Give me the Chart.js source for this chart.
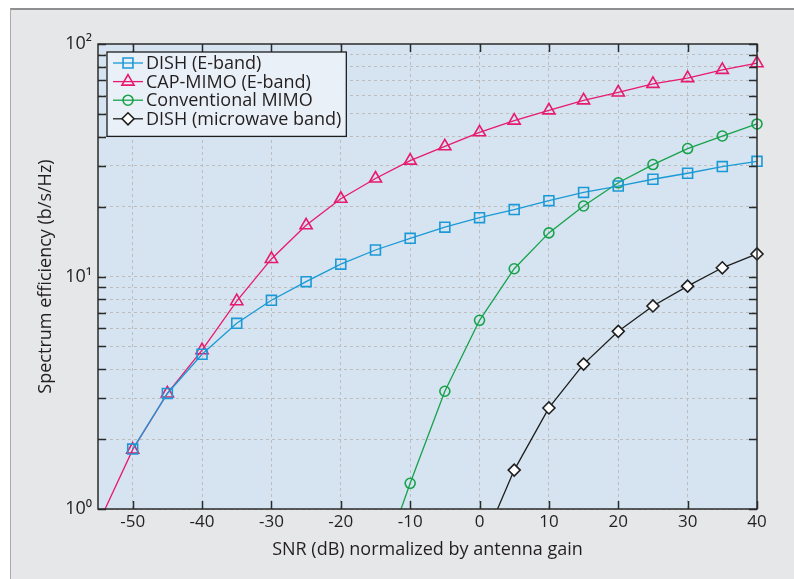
<!DOCTYPE html>
<html>
<head>
<meta charset="utf-8">
<script src="https://cdn.jsdelivr.net/npm/chart.js@4.4.0/dist/chart.umd.min.js"></script>
<style>
  html, body { margin: 0; padding: 0; background: #fff; }
  #wrap { position: relative; width: 794px; height: 579px; overflow: hidden; }
  #panel { position: absolute; left: 10px; top: 8px; width: 800px; height: 600px;
           background: #e6e7e9; border-top: 2px solid #8f8f8f; border-left: 1px solid #aaaaaa; }
  #chart { position: absolute; left: 0; top: 0; }
</style>
</head>
<body>
<div id="wrap">
  <div id="panel"></div>
  <canvas id="chart" width="794" height="579"></canvas>
</div>
<script>
// SNR axis (dB) and the values
const snrDb = [-50, -45, -40, -35, -30, -25, -20, -15, -10, -5, 0, 5, 10, 15, 20, 25, 30, 35, 40];
const dishEband = [1.81, 3.14, 4.63, 6.29, 7.9, 9.5, 11.3, 13.0, 14.6, 16.3, 17.9, 19.4, 21.2, 23.0, 24.5, 26.2, 27.8, 29.7, 31.3];

const capMimoSnr = [-55, -50, -45, -40, -35, -30, -25, -20, -15, -10, -5, 0, 5, 10, 15, 20, 25, 30, 35, 40];
const capMimo = [0.86, 1.80, 3.14, 4.82, 7.83, 11.9, 16.6, 21.6, 26.4, 31.5, 36.3, 41.7, 46.8, 51.8, 57.2, 61.9, 67.4, 71.3, 77.4, 82.7];

const convSnr = [-15, -10, -5, 0, 5, 10, 15, 20, 25, 30, 35, 40];
const convMimo = [0.49, 1.29, 3.21, 6.48, 10.8, 15.4, 20.1, 25.3, 30.3, 35.5, 40.2, 45.3];

const microSnr = [0, 5, 10, 15, 20, 25, 30, 35, 40];
const dishMicro = [0.66, 1.47, 2.72, 4.20, 5.81, 7.47, 9.09, 10.9, 12.5];

const xTicks = [-50, -40, -30, -20, -10, 0, 10, 20, 30, 40];
const yTicks = [1, 2, 3, 4, 5, 6, 7, 8, 9, 10, 20, 30, 40, 50, 60, 70, 80, 90, 100];
const yLabelValues = [1, 10, 100];
const yLabelText = ['10\u2070', '10\u00B9', '10\u00B2'];

const seriesNames = ['DISH (E-band)', 'CAP-MIMO (E-band)', 'Conventional MIMO', 'DISH (microwave band)'];

const FONT = '"Open Sans", sans-serif';
const TEXT = '#231f20';

function pts(xs, ys) {
    return xs.map(function (x, i) { return { x: x, y: ys[i] }; });
}

function radiusFor(r) {
    return function (ctx) {
        return ctx.raw && ctx.raw.y < 1 ? 0 : r;
    };
}

function makeSet(label, data, color, style, r, fill) {
    return {
        label: label,
        data: data,
        borderColor: color,
        backgroundColor: fill,
        borderWidth: 1.3,
        pointStyle: style,
        pointRadius: radiusFor(r),
        pointBorderColor: color,
        pointBackgroundColor: fill,
        pointBorderWidth: 1.6,
        markerRadius: r,
        tension: 0,
        clip: { left: 0, top: 10, right: 10, bottom: 0 },
    };
}

const plotBackground = {
    id: 'plotBackground',
    beforeDraw: function (chart) {
        const a = chart.chartArea;
        const ctx = chart.ctx;
        ctx.save();
        ctx.fillStyle = '#d5e4f0';
        ctx.fillRect(a.left, a.top, a.right - a.left, a.bottom - a.top);
        ctx.restore();
    },
};

function drawMarker(ctx, ds, x, y) {
    const opts = { pointStyle: ds.pointStyle, radius: ds.markerRadius, rotation: 0, borderWidth: 1.6 };
    ctx.fillStyle = ds.pointBackgroundColor;
    ctx.strokeStyle = ds.pointBorderColor;
    ctx.lineWidth = 1.6;
    Chart.helpers.drawPoint(ctx, opts, x, y);
}

const axesBox = {
    id: 'axesBox',
    afterDatasetsDraw: function (chart) {
        const a = chart.chartArea;
        const ctx = chart.ctx;
        const xs = chart.scales.x;
        const ys = chart.scales.y;
        const tl = 8;
        ctx.save();
        ctx.strokeStyle = '#2b2b2b';
        ctx.lineWidth = 1.5;
        ctx.beginPath();
        xTicks.forEach(function (v) {
            const px = Math.round(xs.getPixelForValue(v)) + 0.5;
            ctx.moveTo(px, a.top); ctx.lineTo(px, a.top + tl);
            ctx.moveTo(px, a.bottom); ctx.lineTo(px, a.bottom - tl);
        });
        yTicks.forEach(function (v) {
            const py = Math.round(ys.getPixelForValue(v)) + 0.5;
            ctx.moveTo(a.left, py); ctx.lineTo(a.left + tl, py);
            ctx.moveTo(a.right, py); ctx.lineTo(a.right - tl, py);
        });
        ctx.stroke();
        ctx.strokeRect(a.left, a.top, a.right - a.left, a.bottom - a.top);

        // legend box in the upper left corner
        const lx = a.left + 9, ly = a.top + 8, rowH = 18.6;
        ctx.font = '18px ' + FONT;
        let maxW = 0;
        chart.data.datasets.forEach(function (ds) {
            maxW = Math.max(maxW, ctx.measureText(ds.label).width);
        });
        const w = 39 + maxW + 5;
        const h = rowH * chart.data.datasets.length + 10;
        ctx.fillStyle = '#e9f0f7';
        ctx.fillRect(lx, ly, w, h);
        ctx.strokeStyle = '#1e1e1e';
        ctx.lineWidth = 1.3;
        ctx.strokeRect(lx, ly, w, h);
        chart.data.datasets.forEach(function (ds, i) {
            const cy = ly + 11 + i * rowH;
            ctx.strokeStyle = ds.borderColor;
            ctx.lineWidth = 1.3;
            ctx.beginPath();
            ctx.moveTo(lx + 6, cy); ctx.lineTo(lx + 36, cy);
            ctx.stroke();
            drawMarker(ctx, ds, lx + 21, cy);
            ctx.fillStyle = TEXT;
            ctx.textBaseline = 'middle';
            ctx.textAlign = 'left';
            ctx.fillText(ds.label, lx + 39, cy + 1);
        });
        ctx.restore();
    },
};

new Chart(document.getElementById('chart'), {
    type: 'line',
    data: {
        datasets: [
            makeSet(seriesNames[0], pts(snrDb, dishEband), '#1b99d6', 'rect', 7, 'rgba(0,0,0,0)'),
            makeSet(seriesNames[1], pts(capMimoSnr, capMimo), '#e8196f', 'triangle', 7, 'rgba(0,0,0,0)'),
            makeSet(seriesNames[2], pts(convSnr, convMimo), '#17a24b', 'circle', 5, 'rgba(0,0,0,0)'),
            makeSet(seriesNames[3], pts(microSnr, dishMicro), '#1e1e1e', 'rectRot', 6, '#ffffff'),
        ],
    },
    options: {
        responsive: false,
        animation: false,
        layout: { padding: { left: 35, top: 44, right: 37, bottom: 18 } },
        plugins: {
            legend: { display: false },
            tooltip: { enabled: false },
        },
        scales: {
            x: {
                type: 'linear',
                min: -55,
                max: 40,
                afterBuildTicks: function (s) {
                    s.ticks = xTicks.map(function (v) { return { value: v }; });
                },
                afterFit: function (s) { s.height = 52; },
                grid: {
                    color: function (c) { return c.tick && c.tick.value >= 40 ? 'rgba(0,0,0,0)' : '#bdbdbd'; },
                    lineWidth: 1,
                    drawTicks: false,
                },
                border: { display: false, dash: [3, 3] },
                ticks: {
                    autoSkip: false,
                    maxRotation: 0,
                    padding: 3,
                    color: TEXT,
                    font: { family: FONT, size: 17 },
                },
                title: {
                    display: true,
                    text: 'SNR (dB) normalized by antenna gain',
                    color: TEXT,
                    padding: 0,
                    font: { family: FONT, size: 18 },
                },
            },
            y: {
                type: 'logarithmic',
                min: 1,
                max: 100,
                afterBuildTicks: function (s) {
                    s.ticks = yTicks.map(function (v) { return { value: v }; });
                },
                afterFit: function (s) { s.width = 63; },
                grid: {
                    color: function (c) { return c.tick && c.tick.value >= 100 ? 'rgba(0,0,0,0)' : '#bdbdbd'; },
                    lineWidth: 1,
                    drawTicks: false,
                },
                border: { display: false, dash: [3, 3] },
                ticks: {
                    autoSkip: false,
                    padding: 6,
                    color: TEXT,
                    font: { family: FONT, size: 18 },
                    callback: function (v) {
                        const k = yLabelValues.indexOf(v);
                        return k >= 0 ? yLabelText[k] : '';
                    },
                },
                title: {
                    display: true,
                    text: 'Spectrum efficiency (b/s/Hz)',
                    color: TEXT,
                    padding: 0,
                    font: { family: FONT, size: 18 },
                },
            },
        },
    },
    plugins: [plotBackground, axesBox],
});
</script>
</body>
</html>
